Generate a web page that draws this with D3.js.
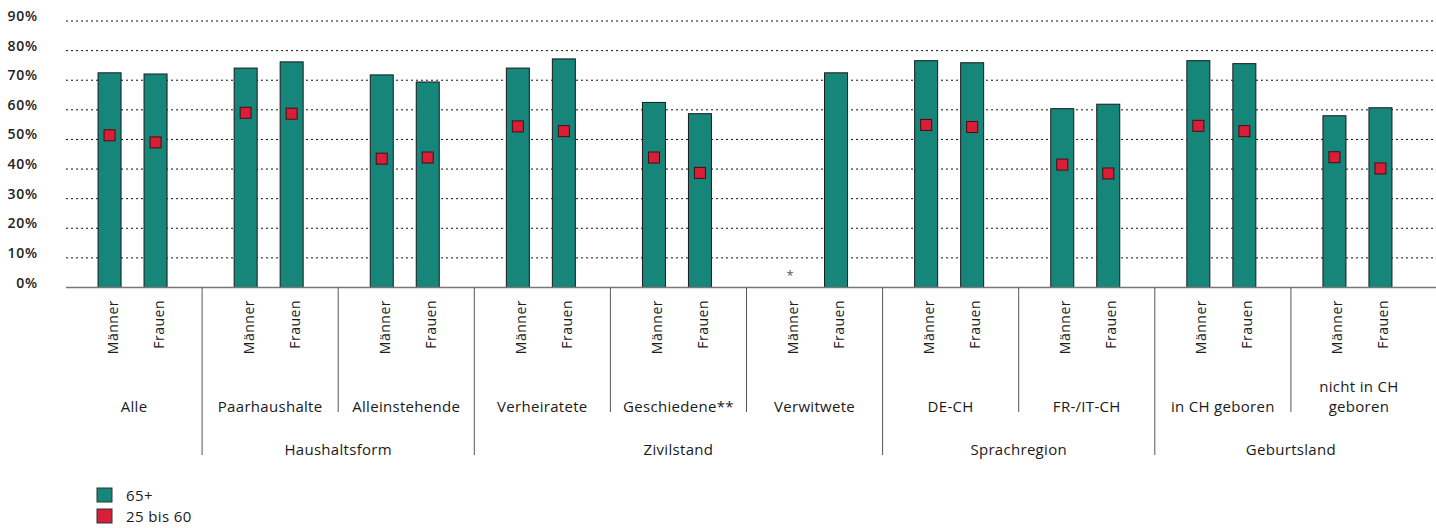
<!DOCTYPE html>
<html><head><meta charset="utf-8">
<script src="https://cdn.jsdelivr.net/npm/d3@7"></script>
<style>
html,body{margin:0;padding:0;background:#fff;}
svg{display:block;font-family:"Open Sans",sans-serif;}
</style></head>
<body><svg id="c" width="1436" height="528"></svg>
<script>
const groups = ["Alle","Paarhaushalte","Alleinstehende","Verheiratete","Geschiedene**","Verwitwete","DE-CH","FR-/IT-CH","in CH geboren","nicht in CH geboren"];
const groupLines = [["Alle"],["Paarhaushalte"],["Alleinstehende"],["Verheiratete"],["Geschiedene**"],["Verwitwete"],["DE-CH"],["FR-/IT-CH"],["in CH geboren"],["nicht in CH","geboren"]];
const sexes = ["Männer","Frauen"];
const superGroups = [
  {name:"Haushaltsform", first:"Paarhaushalte", last:"Alleinstehende"},
  {name:"Zivilstand", first:"Verheiratete", last:"Verwitwete"},
  {name:"Sprachregion", first:"DE-CH", last:"FR-/IT-CH"},
  {name:"Geburtsland", first:"in CH geboren", last:"nicht in CH geboren"}
];
const men65    = [72.5, 74.1, 71.8, 74.1, 62.5, null, 76.6, 60.4, 76.6, 58.0];
const women65  = [72.1, 76.2, 69.4, 77.2, 58.7, 72.5, 75.9, 61.9, 75.6, 60.7];
const men2560  = [51.4, 59.0, 43.5, 54.4, 43.9, null, 54.9, 41.5, 54.6, 44.0];
const women2560= [49.0, 58.7, 43.9, 52.8, 38.7, null, 54.2, 38.5, 52.8, 40.2];
const missingNote = {group:"Verwitwete", sex:"Männer", text:"*"};
const yTicks = [0,10,20,30,40,50,60,70,80,90];
const legendItems = [{label:"65+", key:"old"},{label:"25 bis 60", key:"young"}];

const TEAL = "#16857a", RED = "#d91f38";

const svg = d3.select("#c");
const x0 = d3.scaleBand().domain(groups).range([66, 1427]).padding(0);
const x1 = d3.scalePoint().domain(sexes).range([-24.5, 21.5]);
const y = d3.scaleLinear().domain([0, 90]).range([287.5, 21]);
const barW = 23, mk = 11;

const data = [];
groups.forEach((g, i) => {
  data.push({g, s:"Männer", v65:men65[i], v25:men2560[i]});
  data.push({g, s:"Frauen", v65:women65[i], v25:women2560[i]});
});
const cx = d => x0(d.g) + x0.bandwidth()/2 + x1(d.s);

// gridlines
svg.append("g").selectAll("line").data(yTicks.filter(t => t > 0)).join("line")
  .attr("x1", 66).attr("x2", 1436).attr("y1", d => y(d)).attr("y2", d => y(d))
  .attr("stroke", "#111").attr("stroke-width", 1).attr("stroke-dasharray", "2,3");

// y labels
svg.append("g").selectAll("text").data(yTicks).join("text")
  .attr("x", 38).attr("y", d => y(d)).attr("text-anchor", "end")
  .attr("font-size", 14).attr("font-weight", 600).attr("letter-spacing", "0.8px")
  .attr("fill", "#222").text(d => d + "%");

// bars
svg.append("g").selectAll("rect").data(data.filter(d => d.v65 != null)).join("rect")
  .attr("x", d => cx(d) - barW/2).attr("width", barW)
  .attr("y", d => y(d.v65)).attr("height", d => y(0) - y(d.v65))
  .attr("fill", TEAL).attr("stroke", "#1a1a1a").attr("stroke-width", 1);

// baseline
svg.append("line").attr("x1", 66).attr("x2", 1436).attr("y1", y(0)).attr("y2", y(0))
  .attr("stroke", "#777").attr("stroke-width", 1.5);

// markers
svg.append("g").selectAll("rect").data(data.filter(d => d.v25 != null)).join("rect")
  .attr("x", d => cx(d) - mk/2).attr("y", d => y(d.v25) - mk/2)
  .attr("width", mk).attr("height", mk)
  .attr("fill", RED).attr("stroke", "#4a0a12").attr("stroke-width", 1);

// missing note
svg.append("text")
  .attr("x", x0(missingNote.group) + x0.bandwidth()/2 + x1(missingNote.sex))
  .attr("y", y(0) - 8).attr("text-anchor", "middle").attr("font-size", 13)
  .attr("fill", "#555").text(missingNote.text);

// rotated sex labels
svg.append("g").selectAll("text").data(data).join("text")
  .attr("transform", d => `translate(${cx(d)},300) rotate(-90)`)
  .attr("dy", 8).attr("text-anchor", "end").attr("font-size", 14)
  .attr("letter-spacing", "0.5px").attr("fill", "#1a1a1a").text(d => d.s);

// separators
const superStarts = new Set(superGroups.map(s => s.first));
const superEnds = new Set(superGroups.map(s => s.last));
groups.slice(1).forEach((g, i) => {
  const prev = groups[i];
  const long = superStarts.has(g) || superEnds.has(prev);
  svg.append("line").attr("x1", x0(g)).attr("x2", x0(g))
    .attr("y1", y(0)).attr("y2", long ? 455 : 412)
    .attr("stroke", "#555").attr("stroke-width", 1);
});

// group labels
svg.append("g").selectAll("text").data(groups).join("text")
  .attr("x", d => x0(d) + x0.bandwidth()/2)
  .attr("y", (d, i) => 412 - (groupLines[i].length - 1) * 20)
  .attr("text-anchor", "middle").attr("font-size", 15).attr("letter-spacing", "0.3px")
  .attr("fill", "#1a1a1a")
  .each(function(d, i) {
    const t = d3.select(this);
    groupLines[i].forEach((ln, k) => {
      t.append("tspan").attr("x", x0(d) + x0.bandwidth()/2).attr("dy", k ? 20 : 0).text(ln);
    });
  });

// super group labels
svg.append("g").selectAll("text").data(superGroups).join("text")
  .attr("x", d => (x0(d.first) + x0(d.last) + x0.bandwidth())/2)
  .attr("y", 455).attr("text-anchor", "middle").attr("font-size", 15)
  .attr("letter-spacing", "0.3px").attr("fill", "#1a1a1a").text(d => d.name);

// legend
const lg = svg.append("g").selectAll("g").data(legendItems).join("g")
  .attr("transform", (d, i) => `translate(97,${488 + i * 21})`);
lg.append("rect").attr("width", 15).attr("height", 14)
  .attr("fill", d => d.key === "old" ? TEAL : RED).attr("stroke", "#333").attr("stroke-width", 1);
lg.append("text").attr("x", 29).attr("y", 13).attr("font-size", 15)
  .attr("letter-spacing", "0.4px").attr("fill", "#1a1a1a").text(d => d.label);
</script></body></html>
